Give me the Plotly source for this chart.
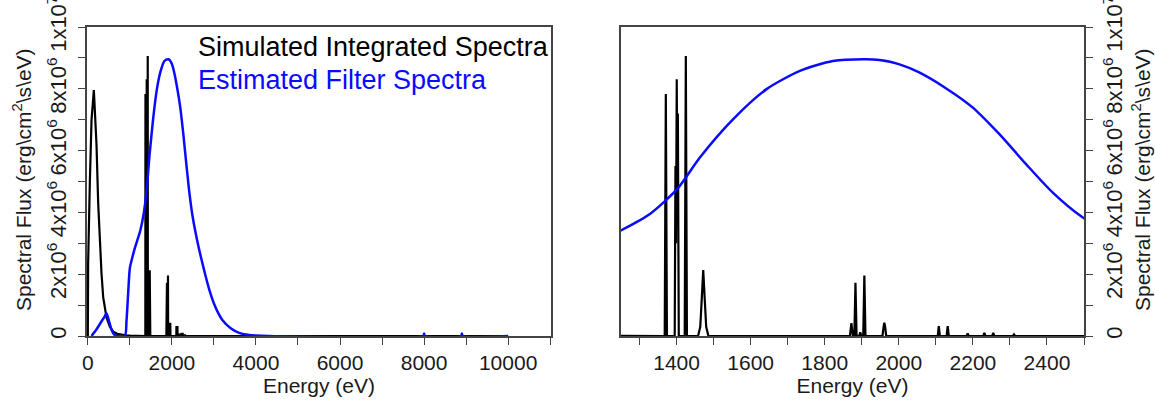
import plotly.graph_objects as go

# ---- data (energy in eV, flux in erg/cm^2/s/eV) ----
sim_energy = [0, 7, 48, 88, 143, 206, 246, 286, 325, 365, 444, 524, 603, 700, 800, 900,
              1000, 1100, 1200, 1300,
              1368, 1371, 1374,
              1395, 1397, 1398.5, 1400.5, 1402, 1403.5, 1406,
              1422, 1425, 1428,
              1458, 1464, 1468, 1472, 1476, 1480, 1486,
              1868, 1872, 1876, 1880, 1883, 1886, 1893, 1896, 1899, 1904, 1907, 1910,
              1956, 1959, 1961, 1963, 1966,
              2105, 2108, 2111, 2129, 2132, 2135, 2183, 2186, 2189,
              2228, 2231, 2234, 2252, 2255, 2258, 2308, 2311, 2314,
              2600, 10000]
sim_flux = [0, 2.35e6, 5.0e6, 7.0e6, 7.96e6, 6.2e6, 4.3e6, 3.0e6, 2.03e6, 1.26e6, 0.6e6, 0.3e6, 0.14e6, 0.07e6, 0.04e6, 0.02e6,
            0.01e6, 0.005e6, 0.002e6, 0,
            0, 7.83e6, 0,
            0, 5.5e6, 3.0e6, 8.31e6, 4.0e6, 7.2e6, 0,
            0, 9.06e6, 0,
            0, 0.3e6, 1.2e6, 2.13e6, 1.2e6, 0.3e6, 0,
            0, 0.42e6, 0, 0, 1.72e6, 0, 0, 0.12e6, 0, 0, 1.96e6, 0,
            0, 0.3e6, 0.43e6, 0.3e6, 0,
            0, 0.32e6, 0, 0, 0.32e6, 0, 0, 0.08e6, 0,
            0, 0.1e6, 0, 0, 0.1e6, 0, 0, 0.05e6, 0,
            0, 0]

filt_energy = [88, 200, 300, 400, 444, 500, 560, 620, 680, 880, 920, 960, 1000, 1060, 1120, 1200,
               1250, 1329, 1402, 1463, 1553, 1643, 1733, 1822, 1912, 1948, 2000, 2055, 2127, 2199,
               2271, 2343, 2415, 2495, 2600, 2700, 2800, 2900, 3000, 3100, 3200, 3400, 3600, 3800,
               4000, 4300, 7980, 8000, 8020, 8880, 8900, 8920, 10000]
filt_flux = [0, 0.2e6, 0.42e6, 0.63e6, 0.74e6, 0.5e6, 0.22e6, 0.06e6, 0, 0, 0.5e6, 1.4e6, 2.2e6, 2.55e6, 2.85e6, 3.2e6,
             3.42e6, 3.96e6, 4.76e6, 5.78e6, 7.02e6, 7.99e6, 8.58e6, 8.90e6, 8.96e6, 8.93e6, 8.80e6, 8.53e6, 8.02e6, 7.40e6,
             6.54e6, 5.57e6, 4.65e6, 3.85e6, 3.1e6, 2.5e6, 1.95e6, 1.45e6, 1.05e6, 0.75e6, 0.52e6, 0.25e6, 0.1e6, 0.04e6,
             0.015e6, 0, 0, 0.08e6, 0, 0, 0.08e6, 0, 0]

y_tickvals = [0, 2e6, 4e6, 6e6, 8e6, 1e7]
y_ticktext = ["0", "2x10<sup>6</sup>", "4x10<sup>6</sup>", "6x10<sup>6</sup>", "8x10<sup>6</sup>", "1x10<sup>7</sup>"]
y_minor = [1e6, 3e6, 5e6, 7e6, 9e6]
x1_ticks = [0, 2000, 4000, 6000, 8000, 10000]
x1_ticktext = ["0", "2000", "4000", "6000", "8000", "10000"]
x1_minor = [1000, 3000, 5000, 7000, 9000, 11000]
x2_ticks = [1400, 1600, 1800, 2000, 2200, 2400]
x2_ticktext = ["1400", "1600", "1800", "2000", "2200", "2400"]
x2_minor = [1300, 1500, 1700, 1900, 2100, 2300, 2500]

BLACK = "#000000"
BLUE = "#0a0aff"
AX = "#444444"
TXT = "#1a1a1a"
FONT = "Arial, Liberation Sans, sans-serif"
W, H = 1155, 401

fig = go.Figure()
for xa, ya in [("x", "y"), ("x2", "y2")]:
    fig.add_trace(go.Scatter(x=sim_energy, y=sim_flux, mode="lines", xaxis=xa, yaxis=ya,
                             line=dict(color=BLACK, width=2.2), showlegend=False))
    fig.add_trace(go.Scatter(x=filt_energy, y=filt_flux, mode="lines", xaxis=xa, yaxis=ya,
                             line=dict(color=BLUE, width=2.5, shape="spline", smoothing=0.7),
                             showlegend=False))

common_axis = dict(showline=True, linecolor=AX, linewidth=1.5, mirror=True, showgrid=False,
                   zeroline=False, ticks="outside", ticklen=7, tickwidth=1.2, tickcolor=AX,
                   ticklabeloverflow="allow", automargin=False)

xtick_font = dict(family=FONT, size=21, color=TXT)
ytick_font = dict(family=FONT, size=22, color=TXT)
xtitle = dict(text="Energy (eV)", font=dict(family=FONT, size=21, color=TXT), standoff=3)
ydom = [(H - 336) / H, (H - 27) / H]
fig.update_layout(
    width=W, height=H, margin=dict(l=0, r=0, t=0, b=0),
    paper_bgcolor="white", plot_bgcolor="white",
    xaxis=dict(domain=[87 / W, 551 / W], range=[-20, 11020], tickvals=x1_ticks, ticktext=x1_ticktext,
               minor=dict(tickvals=x1_minor, ticks="outside", ticklen=7, tickcolor=AX),
               tickfont=xtick_font, title=xtitle, anchor="y", **common_axis),
    yaxis=dict(domain=ydom, range=[0, 1e7], tickvals=y_tickvals, ticktext=y_ticktext, tickangle=-90,
               minor=dict(tickvals=y_minor, ticks="outside", ticklen=7, tickcolor=AX),
               tickfont=ytick_font, ticklabelstandoff=3,
               anchor="x", **common_axis),
    xaxis2=dict(domain=[621 / W, 1084 / W], range=[1250, 2500], tickvals=x2_ticks, ticktext=x2_ticktext,
                minor=dict(tickvals=x2_minor, ticks="outside", ticklen=7, tickcolor=AX),
                tickfont=xtick_font, title=xtitle, anchor="y2", **common_axis),
    yaxis2=dict(domain=ydom, range=[0, 1e7], tickvals=y_tickvals, ticktext=y_ticktext, tickangle=-90,
                side="right", anchor="x2", tickfont=ytick_font, ticklabelstandoff=3,
                minor=dict(tickvals=y_minor, ticks="outside", ticklen=7, tickcolor=AX),
                **common_axis),
)

ytitle = "Spectral Flux (erg\\cm<sup>2</sup>\\s\\eV)"
fig.add_annotation(x=22 / W, y=(H - 180) / H, xref="paper", yref="paper", text=ytitle, textangle=-90,
                   showarrow=False, font=dict(family=FONT, size=21, color=TXT), xanchor="center", yanchor="middle")
fig.add_annotation(x=1141 / W, y=(H - 180) / H, xref="paper", yref="paper", text=ytitle, textangle=-90,
                   showarrow=False, font=dict(family=FONT, size=21, color=TXT), xanchor="center", yanchor="middle")

fig.add_annotation(x=196 / W, y=(H - 47) / H, xref="paper", yref="paper", text="Simulated Integrated Spectra",
                   showarrow=False, font=dict(family=FONT, size=27, color=BLACK), xanchor="left", yanchor="middle")
fig.add_annotation(x=196 / W, y=(H - 80) / H, xref="paper", yref="paper", text="Estimated Filter Spectra",
                   showarrow=False, font=dict(family=FONT, size=27, color=BLUE), xanchor="left", yanchor="middle")

fig.write_html("out.html")
